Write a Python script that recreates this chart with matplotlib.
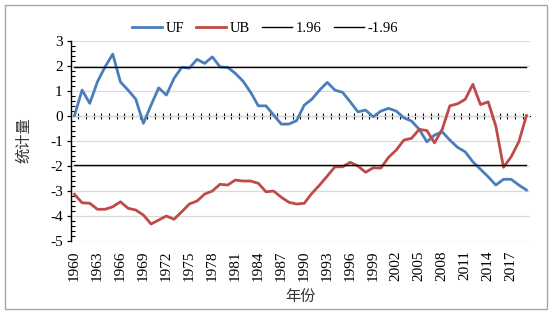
import numpy as np
import matplotlib.pyplot as plt
from matplotlib.patches import Rectangle
from matplotlib.ticker import MultipleLocator

plt.rcParams['font.family'] = 'serif'
plt.rcParams['font.serif'] = ['Liberation Serif', 'DejaVu Serif']
police_cn = 'Noto Sans CJK SC'

# donnees (test de Mann-Kendall)
annees = np.arange(1960, 2020)
UF = [0.0, 1.02, 0.49, 1.35, 1.95, 2.46, 1.35, 1.02, 0.66, -0.31,
      0.42, 1.11, 0.82, 1.49, 1.93, 1.9, 2.25, 2.09, 2.35, 1.95,
      1.93, 1.69, 1.38, 0.93, 0.39, 0.39, 0.02, -0.34, -0.34, -0.2,
      0.42, 0.66, 1.02, 1.33, 1.02, 0.93, 0.55, 0.15, 0.22, -0.05,
      0.18, 0.29, 0.18, -0.09, -0.22, -0.55, -1.05, -0.78, -0.65, -0.98,
      -1.27, -1.45, -1.85, -2.15, -2.45, -2.78, -2.55, -2.55, -2.78, -2.98]
UB = [-3.15, -3.49, -3.51, -3.75, -3.75, -3.65, -3.45, -3.71, -3.78, -3.98,
      -4.34, -4.18, -4.02, -4.15, -3.85, -3.54, -3.42, -3.14, -3.02, -2.75,
      -2.78, -2.58, -2.62, -2.62, -2.71, -3.05, -3.02, -3.27, -3.47, -3.54,
      -3.51, -3.11, -2.78, -2.42, -2.05, -2.05, -1.87, -2.02, -2.27, -2.09,
      -2.1, -1.67, -1.38, -0.98, -0.91, -0.55, -0.6, -1.09, -0.55, 0.39,
      0.47, 0.65, 1.25, 0.44, 0.55, -0.42, -2.07, -1.65, -1.05, 0.0]
seuil = 1.96
annees_labels = np.arange(1960, 2018, 3)

fig = plt.figure(figsize=(5.52, 3.15), dpi=100)
ax = fig.add_axes([0.1286, 0.2365, 0.8314, 0.6345])

# cadre gris autour du graphique
fig.patches.append(Rectangle((5 / 552, 6 / 315), 542 / 552, 304 / 315, transform=fig.transFigure,
                             fill=False, edgecolor='#a6a6a6', linewidth=1.0))

ax.plot(annees, UF, color='#4a7ebb', linewidth=2.0, label='UF', solid_joinstyle='round')
ax.plot(annees, UB, color='#be4b48', linewidth=2.0, label='UB', solid_joinstyle='round')
ax.plot(annees, np.full(len(annees), seuil), color='black', linewidth=1.0, label='1.96')
ax.plot(annees, np.full(len(annees), -seuil), color='black', linewidth=1.0, label='-1.96')

ax.set_xlim(1959.55, 2019.45)
ax.set_ylim(-5, 3)

# grille horizontale
ax.yaxis.set_major_locator(MultipleLocator(1))
ax.yaxis.set_minor_locator(MultipleLocator(0.2))
ax.grid(axis='y', color='#d9d9d9', linewidth=0.9)
ax.set_axisbelow(True)
ax.set_yticklabels([str(int(v)) for v in ax.get_yticks()])
ax.tick_params(axis='y', which='major', direction='out', length=3, width=0.9, labelsize=11, pad=3)
ax.tick_params(axis='y', which='minor', direction='in', length=3, width=0.8)

# etiquettes des annees en bas
ax.set_xticks(annees_labels)
ax.set_xticklabels([str(a) for a in annees_labels], rotation=90)
ax.tick_params(axis='x', length=0, labelsize=11, pad=7)

for s in ['top', 'right', 'bottom']:
    ax.spines[s].set_visible(False)
ax.spines['left'].set_linewidth(1.0)

# axe horizontal a y=0 avec graduations
axe0 = ax.secondary_xaxis(5 / 8)
axe0.set_xticks(np.arange(1959.5, 2020, 1))
axe0.set_xticklabels([])
axe0.tick_params(axis='x', direction='inout', length=4, width=0.8)
axe0.spines['bottom'].set_linewidth(1.0)

ax.set_ylabel('统计量', fontsize=11, labelpad=13, family=police_cn, color='#333333')
ax.set_xlabel('年份', fontsize=11, labelpad=5, family=police_cn, color='#333333')

fig.legend(loc='center', bbox_to_anchor=(0.48, 1 - 28 / 315), ncol=4, frameon=False,
           fontsize=10.5, handlelength=2.05, columnspacing=0.85, handletextpad=0.25)

plt.savefig('out.png', dpi=100)
